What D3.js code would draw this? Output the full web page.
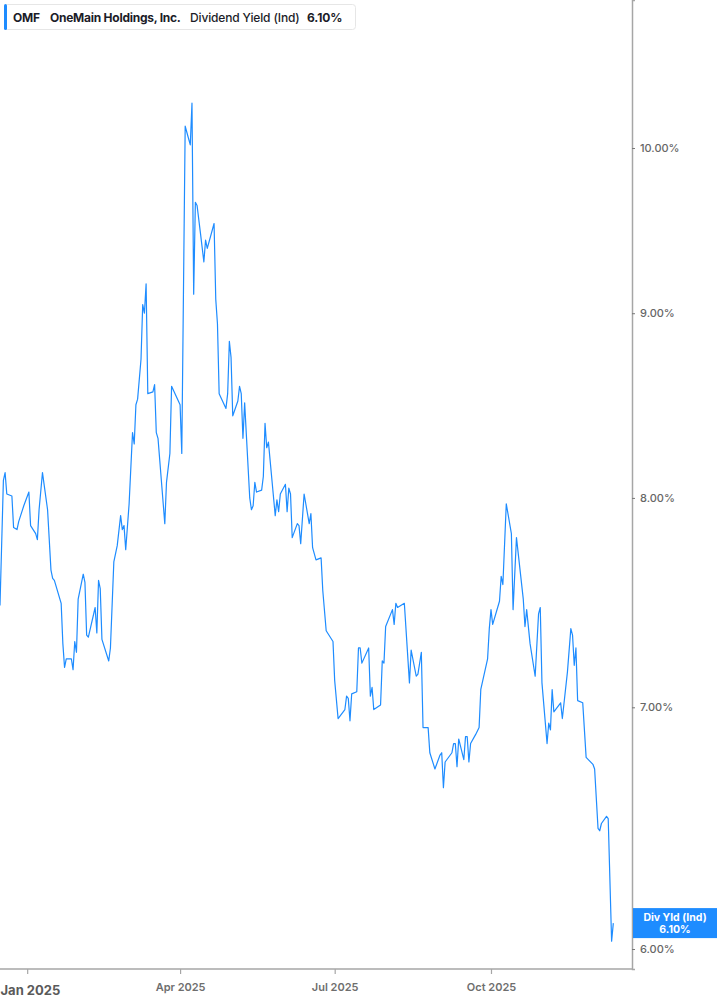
<!DOCTYPE html>
<html>
<head>
<meta charset="utf-8">
<script src="https://cdn.jsdelivr.net/npm/d3@7"></script>
<style>
  html, body { margin: 0; padding: 0; background: #fff; }
  svg { display: block; font-family: Inter, "Noto Sans", sans-serif; }
</style>
</head>
<body>
<svg id="chart" width="717" height="1005"></svg>
<script>
const ticker = "OMF";
const company = "OneMain Holdings, Inc.";
const metric = "Dividend Yield (Ind)";
const lastLabel = "6.10%";
const badgeTitle = "Div Yld (Ind)";

const dates = [
  "2024-12-16","2024-12-18","2024-12-19","2024-12-20","2024-12-23","2024-12-24","2024-12-26","2024-12-27","2024-12-30",
  "2025-01-02","2025-01-03","2025-01-06","2025-01-07","2025-01-08","2025-01-10","2025-01-13","2025-01-15","2025-01-16","2025-01-17",
  "2025-01-21","2025-01-22","2025-01-23","2025-01-24","2025-01-27","2025-01-28","2025-01-29","2025-01-30","2025-01-31",
  "2025-02-03","2025-02-04","2025-02-05","2025-02-06","2025-02-10","2025-02-11","2025-02-12","2025-02-13","2025-02-14",
  "2025-02-18","2025-02-19","2025-02-21","2025-02-23","2025-02-25","2025-02-26","2025-02-27","2025-02-28",
  "2025-03-02","2025-03-04","2025-03-05","2025-03-06","2025-03-07","2025-03-09","2025-03-10","2025-03-11","2025-03-12","2025-03-13",
  "2025-03-16","2025-03-17","2025-03-18","2025-03-19","2025-03-23","2025-03-24","2025-03-26","2025-03-27","2025-04-01",
  "2025-04-02","2025-04-04","2025-04-07","2025-04-08","2025-04-09","2025-04-10","2025-04-11","2025-04-13","2025-04-15","2025-04-16","2025-04-17",
  "2025-04-21","2025-04-22","2025-04-23","2025-04-24","2025-04-28","2025-04-29","2025-04-30","2025-05-01","2025-05-02",
  "2025-05-05","2025-05-06","2025-05-07","2025-05-08","2025-05-09","2025-05-12","2025-05-13","2025-05-14","2025-05-15","2025-05-16",
  "2025-05-19","2025-05-20","2025-05-21","2025-05-22","2025-05-23","2025-05-27","2025-05-28","2025-05-29","2025-05-30",
  "2025-06-02","2025-06-03","2025-06-04","2025-06-05","2025-06-06","2025-06-09","2025-06-10","2025-06-11","2025-06-13",
  "2025-06-16","2025-06-17","2025-06-18","2025-06-20","2025-06-23","2025-06-24","2025-06-26","2025-06-30",
  "2025-07-01","2025-07-03","2025-07-07","2025-07-08","2025-07-09","2025-07-10","2025-07-11","2025-07-14","2025-07-15","2025-07-16","2025-07-17",
  "2025-07-21","2025-07-22","2025-07-23","2025-07-24","2025-07-28","2025-07-29","2025-07-30","2025-07-31",
  "2025-08-04","2025-08-05","2025-08-06","2025-08-07","2025-08-11","2025-08-14","2025-08-15","2025-08-18","2025-08-19","2025-08-21","2025-08-22",
  "2025-08-25","2025-08-26","2025-08-29","2025-09-01","2025-09-02","2025-09-03","2025-09-04","2025-09-08","2025-09-09","2025-09-10","2025-09-11","2025-09-12",
  "2025-09-15","2025-09-16","2025-09-17","2025-09-18","2025-09-19","2025-09-22","2025-09-24","2025-09-25","2025-09-29","2025-09-30",
  "2025-10-01","2025-10-02","2025-10-06","2025-10-07","2025-10-08","2025-10-10","2025-10-13","2025-10-14","2025-10-16",
  "2025-10-20","2025-10-21","2025-10-22","2025-10-24","2025-10-27","2025-10-29","2025-10-30","2025-10-31",
  "2025-11-03","2025-11-04","2025-11-05","2025-11-06","2025-11-07","2025-11-11","2025-11-12","2025-11-15","2025-11-17","2025-11-18","2025-11-19","2025-11-20","2025-11-21",
  "2025-11-24","2025-11-26","2025-11-30","2025-12-01","2025-12-03","2025-12-04","2025-12-05","2025-12-08","2025-12-09","2025-12-11","2025-12-12"
];

const yields = [
  7.47,8.09,8.13,8.02,8.01,7.85,7.84,7.88,7.96,
  8.03,7.86,7.82,7.79,7.94,8.13,7.94,7.64,7.60,7.59,
  7.48,7.29,7.18,7.22,7.22,7.17,7.30,7.25,7.50,
  7.62,7.58,7.33,7.32,7.46,7.34,7.59,7.55,7.31,
  7.21,7.27,7.68,7.76,7.91,7.84,7.86,7.74,
  7.97,8.34,8.28,8.49,8.52,8.74,9.05,9.00,9.17,8.55,
  8.56,8.60,8.34,8.31,7.87,8.08,8.23,8.59,8.49,
  8.23,10.14,10.02,10.29,9.11,9.66,9.64,9.47,9.30,9.43,9.38,
  9.53,9.08,8.94,8.55,8.47,8.55,8.84,8.75,8.43,
  8.51,8.59,8.55,8.31,8.50,8.00,7.94,7.96,8.08,8.03,
  8.04,8.11,8.39,8.26,8.29,7.91,7.99,7.93,8.02,
  8.07,7.93,8.05,8.02,7.80,7.87,7.86,7.77,8.02,
  7.87,7.92,7.75,7.69,7.70,7.54,7.35,7.30,
  7.12,6.95,6.99,7.05,7.04,6.94,7.06,7.07,7.27,7.27,7.20,
  7.27,7.05,7.09,6.99,7.01,7.21,7.20,7.37,
  7.45,7.38,7.48,7.46,7.48,7.11,7.26,7.14,7.15,7.25,6.91,
  6.91,6.80,6.73,6.79,6.80,6.65,6.76,6.80,6.84,6.84,6.74,6.86,
  6.77,6.87,6.87,6.76,6.84,6.88,6.91,7.08,7.22,7.36,
  7.45,7.38,7.49,7.61,7.57,7.97,7.82,7.45,7.80,
  7.50,7.37,7.45,7.29,7.14,7.43,7.46,7.11,
  6.84,6.93,6.90,7.08,6.98,7.02,6.95,7.16,7.36,7.33,7.19,7.27,7.03,
  7.02,6.78,6.75,6.73,6.48,6.47,6.50,6.53,6.52,6.03,6.10
];

const yTicks = [6, 7, 8, 9, 10];
const xTickDates = ["2025-01-01", "2025-04-01", "2025-07-01", "2025-10-01"];
const xDomain = ["2024-12-16", "2025-12-23"];
const yDomain = [5.924, 10.99];

const parse = d3.utcParse("%Y-%m-%d");
const data = dates.map((d, i) => ({ date: parse(d), value: yields[i] }));

const svg = d3.select("#chart");
const plotRight = 632, plotBottom = 969;

const x = d3.scaleUtc().domain(xDomain.map(parse)).range([0, plotRight]);
const y = d3.scaleLog().domain(yDomain).range([plotBottom, 0]);

const blue = "#1e8cff";
const axisCol = "#a6a6a6";

// right axis
const yAxis = d3.axisRight(y).tickValues(yTicks).tickFormat(d => d.toFixed(2) + "%").tickSize(3).tickPadding(5);
const gy = svg.append("g").attr("transform", `translate(${plotRight},0)`).call(yAxis);
gy.select(".domain").attr("stroke", axisCol).attr("stroke-width", 1.5);
gy.selectAll(".tick line").attr("stroke", "#777");
gy.selectAll(".tick text").attr("fill", "#666").attr("font-size", 11).attr("font-weight", 500)
  .attr("font-family", "Inter, sans-serif");

// bottom axis
const xAxis = d3.axisBottom(x).tickValues(xTickDates.map(parse)).tickFormat(d3.utcFormat("%b %Y")).tickSize(5).tickPadding(9);
const gx = svg.append("g").attr("transform", `translate(0,${plotBottom})`).call(xAxis);
gx.select(".domain").attr("stroke", axisCol).attr("stroke-width", 1.5).attr("d", `M0,0H${plotRight}`);
gx.selectAll(".tick line").attr("stroke", axisCol).attr("stroke-width", 1.2);
gx.selectAll(".tick text").attr("fill", "#6e6e6e").attr("font-size", 11).attr("font-weight", 600)
  .attr("font-family", "Inter, sans-serif");
gx.selectAll(".tick text").filter((d, i) => i === 0)
  .attr("text-anchor", "start").attr("x", -x(parse(xTickDates[0])))
  .attr("font-size", 13).attr("font-weight", 700).attr("fill", "#5a5a5a").attr("dy", "0.95em");

// line
const line = d3.line().x(d => x(d.date)).y(d => y(d.value));
svg.append("path").datum(data).attr("d", line)
  .attr("fill", "none").attr("stroke", blue).attr("stroke-width", 1.2).attr("stroke-linejoin", "round");

// last value badge
const last = data[data.length - 1];
const by = y(last.value);
const badge = svg.append("g");
badge.append("rect").attr("x", plotRight + 1).attr("y", by - 15).attr("width", 717 - plotRight - 1).attr("height", 30).attr("fill", blue);
badge.append("text").attr("x", 675).attr("y", by - 2.5).attr("text-anchor", "middle")
  .attr("fill", "#fff").attr("font-size", 10.5).attr("font-weight", 700).text(badgeTitle);
badge.append("text").attr("x", 675).attr("y", by + 10).attr("text-anchor", "middle")
  .attr("fill", "#fff").attr("font-size", 10.5).attr("font-weight", 700).text(lastLabel);

// legend
const lg = svg.append("g");
lg.append("rect").attr("x", 4.5).attr("y", 4.5).attr("width", 351).attr("height", 25).attr("rx", 3)
  .attr("fill", "#fff").attr("stroke", "#e6e6e6");
lg.append("rect").attr("x", 4).attr("y", 4).attr("width", 3).attr("height", 26).attr("rx", 1.5).attr("fill", blue);
const lt = lg.append("text").attr("y", 21.5).attr("font-size", 12).attr("fill", "#1c1c28");
lt.append("tspan").attr("x", 13).attr("font-weight", 700).attr("letter-spacing", -0.2).text(ticker);
lt.append("tspan").attr("x", 50).attr("font-weight", 700).attr("letter-spacing", -0.25).text(company);
lt.append("tspan").attr("x", 190).attr("font-weight", 500).attr("letter-spacing", -0.15).text(metric);
lt.append("tspan").attr("x", 307).attr("font-weight", 700).attr("letter-spacing", -0.1).text(lastLabel);
</script>
</body>
</html>
